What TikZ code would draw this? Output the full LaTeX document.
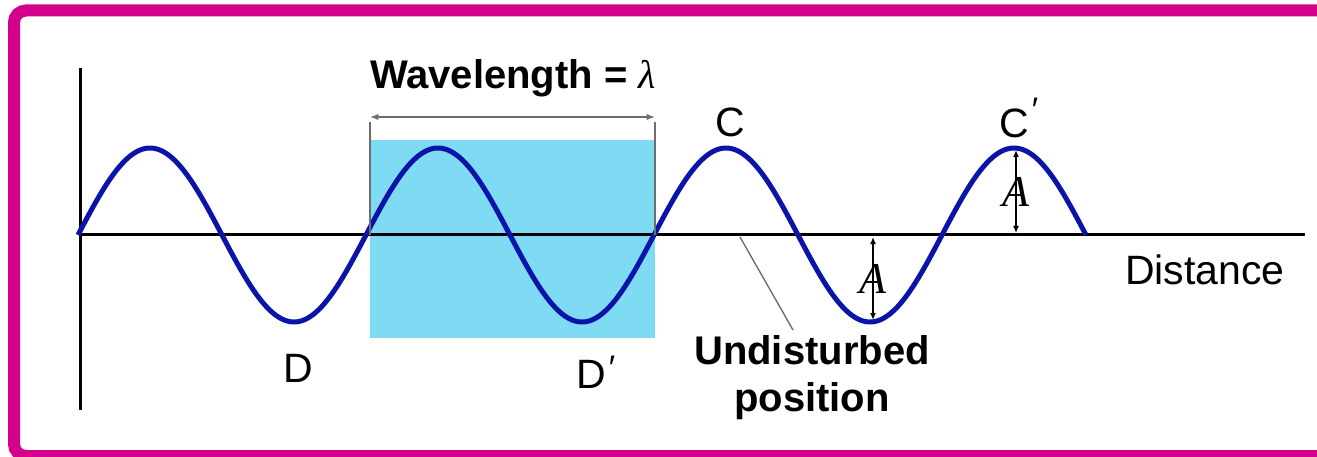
\documentclass[tikz,border=0pt]{standalone}
\usepackage{fontspec}
\setmainfont{Liberation Sans}
\newfontfamily\serifit{Liberation Serif}
\usetikzlibrary{arrows.meta,positioning}
\definecolor{frame}{HTML}{D4008C}
\definecolor{wave}{HTML}{0A14A8}
\definecolor{band}{HTML}{7FDAF4}
\definecolor{guide}{HTML}{6E6E6E}
\newcommand{\primemark}[1]{\rlap{\kern3pt\raisebox{#1}{\fontsize{34}{34}\selectfont′}}}

\begin{document}
\begin{tikzpicture}[x=1pt,y=-1pt,>=Latex,
 lbl/.style={font=\fontsize{41}{44}\selectfont,inner sep=0pt},
 hd/.style={font=\bfseries\fontsize{40}{47}\selectfont,inner sep=0pt,align=center},
 ax/.style={line width=3pt,color=black},
 dim/.style={<->,line width=1.2pt,color=guide},
 amp/.style={{Latex[length=7pt,width=6pt]}-{Latex[length=7pt,width=6pt]},line width=1.6pt,color=black},
 ampl/.style={font=\serifit\itshape\fontsize{44}{44}\selectfont,inner sep=0pt}]
 \useasboundingbox (0,0) rectangle (1317,457);
 \clip (0,0) rectangle (1317,457);
 \draw[frame,line width=12pt,rounded corners=12pt] (14,10.5) rectangle (1345,456);
 % shaded wavelength band
 \fill[band] (370,140) rectangle (655,338);
 % axes
 \coordinate (o) at (80,235);
 \coordinate (top) at (80,68);
 \coordinate (bot) at (80,410);
 \coordinate (far) at (1305,235);
 \draw[ax] (top) -- (bot);
 \draw[ax] (o) -- (far);
 % the wave
 \draw[wave,line width=5pt,domain=78:1086,samples=220,smooth]
   plot (\x,{235-87*sin(1.25*(\x-78))});
 % wavelength marker
 \coordinate (wl) at (370,117);
 \coordinate (wr) at (655,117);
 \coordinate (wlb) at (370,235);
 \coordinate (wrb) at (655,235);
 \draw[guide,line width=1.2pt] ([yshift=-5pt]wl) -- (wlb);
 \draw[guide,line width=1.2pt] ([yshift=-5pt]wr) -- (wrb);
 \draw[dim] (wl) -- (wr);
 \node[hd] (wlen) at (513,78) {Wavelength = {\serifit\itshape\mdseries λ}};
 % amplitudes
 \coordinate (a1) at (873,237);
 \coordinate (a1b) at (873,320);
 \coordinate (a2) at (1016,233);
 \coordinate (a2t) at (1016,150);
 \draw[amp] (a1) -- node[ampl] (A1) {A} (a1b);
 \draw[amp] (a2) -- node[ampl] (A2) {A} (a2t);
 % crest and trough labels
 \node[lbl] (C) at (730,122) {C};
 \node[lbl] (Cp) at (1014,118) {C\primemark{16pt}};
 \node[lbl] (D) at (298,368) {D};
 \node[lbl] (Dp) at (591,372) {D\primemark{9pt}};
 \node[lbl] (dist) at (1205,270) {Distance};
 \node[hd] (und) at (812,378) {Undisturbed\\position};
 \coordinate (us) at (740,237);
 \coordinate (ue) at (793,330);
 \draw[guide,line width=1.4pt] (us) -- (ue);
\end{tikzpicture}
\end{document}
